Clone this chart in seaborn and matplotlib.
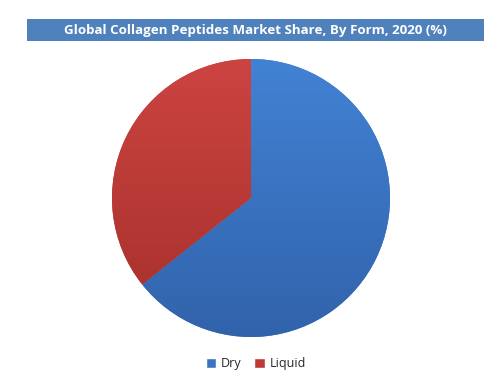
import matplotlib
matplotlib.use("Agg")
import matplotlib.pyplot as plt
import seaborn as sns
import numpy as np
from matplotlib.patches import Rectangle
from matplotlib.colors import LinearSegmentedColormap

categories = ["Dry", "Liquid"]
shares = [64.3, 35.7]
title = "Global Collagen Peptides Market Share, By Form, 2020 (%)"

sns.set_theme(style="white")
plt.rcParams['font.family'] = ['Open Sans', 'DejaVu Sans']

colors = ["#3b73c1", "#bf3a37"]
grad = [("#4282d4", "#3163ab"), ("#cc4441", "#a52f2b")]

W, H = 504, 386
fig = plt.figure(figsize=(W / 100, H / 100), dpi=100)
cx, cy, r = 251, 198, 139
ax = fig.add_axes([(cx - r) / W, (H - cy - r) / H, 2 * r / W, 2 * r / H])
wedges, _ = ax.pie(shares, colors=colors, startangle=90, counterclock=False,
                   radius=1, wedgeprops=dict(linewidth=0))
ax.set_xlim(-1, 1)
ax.set_ylim(-1, 1)
ax.set_aspect("equal")
for w, (c1, c2) in zip(wedges, grad):
    cmap = LinearSegmentedColormap.from_list("g", [c2, c1])
    img = ax.imshow(np.linspace(0, 1, 256).reshape(-1, 1), cmap=cmap,
                    extent=(-1, 1, -1, 1), origin="lower", aspect="auto", zorder=2)
    img.set_clip_path(w)
ax.set_xlim(-1, 1)
ax.set_ylim(-1, 1)
ax.axis("off")

# title box
fig.patches.append(Rectangle((27 / W, 1 - 41 / H), (484 - 27) / W, 22 / H,
                             transform=fig.transFigure, facecolor="#4f81bd",
                             edgecolor="none"))
fig.text(255 / W, 1 - 30.5 / H, title, color="white", fontsize=9.6,
         fontweight="bold", ha="center", va="center")

# legend
handles = [Rectangle((0, 0), 1, 1, facecolor=c) for c in colors]
fig.legend(handles, categories, loc="center", bbox_to_anchor=(256 / W, 1 - 364 / H),
           ncol=2, frameon=False, fontsize=9, handlelength=0.85, handleheight=0.85,
           handletextpad=0.4, columnspacing=1.0)

fig.savefig("out.png", dpi=100)
